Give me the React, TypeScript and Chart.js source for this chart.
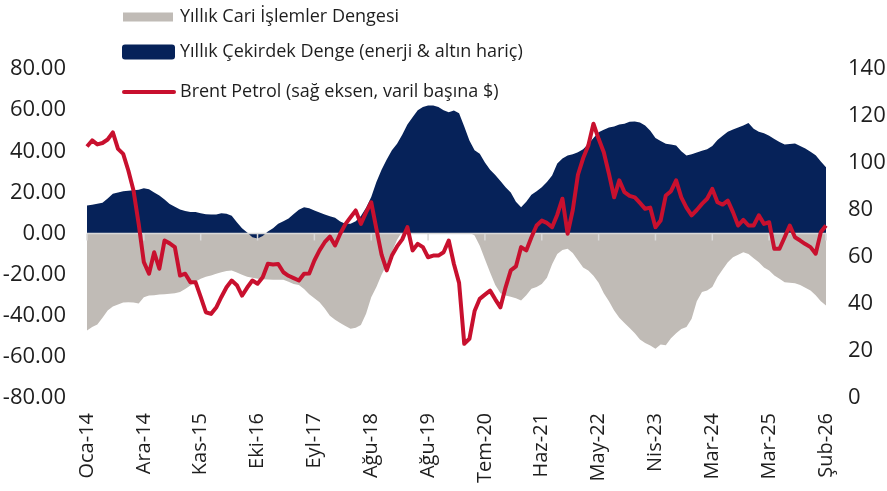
import React, { useEffect, useRef } from "react";
import { Chart, registerables } from "chart.js";

Chart.register(...registerables);

const TICK_LABELS = ["Oca-14", "Ara-14", "Kas-15", "Eki-16", "Eyl-17", "Ağu-18", "Ağu-19", "Tem-20", "Haz-21", "May-22", "Nis-23", "Mar-24", "Mar-25", "Şub-26"];
const TICK_EVERY = 11;

const SERIES_NAMES = [
  "Yıllık Cari İşlemler Dengesi",
  "Yıllık Çekirdek Denge (enerji & altın hariç)",
  "Brent Petrol (sağ eksen, varil başına $)",
];

const CURRENT_ACCOUNT = [
  -47.2, -45.5, -44.2, -41, -37.5, -35.5, -34.5, -33.6, -33.4, -33.5,
  -34, -31, -30.2, -30, -29.7, -29.5, -29.3, -29, -28.5, -27,
  -25.3, -23.5, -22, -21, -20.4, -19.6, -18.8, -18.2, -18, -19,
  -20, -21, -21.5, -22, -22.3, -22.4, -22.5, -22.5, -22.5, -23.5,
  -24.5, -25, -27, -29.5, -31.5, -33.4, -36.5, -40, -42, -43.5,
  -45, -46.3, -45.8, -44.5, -39, -31, -26, -20, -15, -9,
  -3, 1, 3, 4.5, 6, 7, 7.5, 7.5, 7, 6.5,
  5.5, 4.5, 3, 1.5, 0.5, -1, -6, -12.5, -19, -25,
  -29, -30.2, -30.8, -31.5, -32.6, -30, -26.9, -26, -24.5, -21.5,
  -15, -10, -8, -7.4, -9.5, -13, -16.5, -18, -20.5, -24,
  -29, -33, -37.5, -41, -43.5, -46, -48.5, -51.5, -53.2, -54.5,
  -56, -54, -54.3, -51, -48.5, -46.5, -45.5, -41.5, -33, -28.5,
  -27.7, -26, -21.2, -17.5, -14, -11.5, -10.3, -9.1, -10, -12,
  -14, -16.5, -18, -20.4, -22, -23.7, -24, -24.2, -25, -26.4,
  -27.7, -30, -33, -35,
];

const CORE_BALANCE = [
  13.6, 14, 14.5, 15, 17, 19.3, 20, 20.6, 20.8, 21,
  21.3, 22, 21.5, 20, 18.5, 16.5, 14.4, 13, 11.7, 11,
  10.5, 10.4, 9.8, 9.4, 9.2, 9.3, 9.8, 9.6, 8.6, 5.5,
  2.5, 0.5, -1.8, -2.4, -1.2, 1, 2.5, 4.7, 6, 7.3,
  9.5, 11.5, 12.8, 12.3, 11.2, 10.2, 9.2, 8.4, 7.6, 5.8,
  4.8, 4.7, 6, 8.5, 12.5, 17.7, 25, 31, 36, 40.5,
  43.6, 48, 53, 56.5, 60, 61.5, 62.3, 62.3, 61.5, 60,
  59, 59.8, 58.5, 52, 45.2, 40.5, 38.8, 34.5, 31, 28.5,
  25.5, 22.5, 20, 15.5, 12.8, 15.5, 18.8, 20.5, 22.5, 25,
  28.2, 34, 36.5, 37.9, 38.5, 39.5, 41, 43.5, 46.5, 49.3,
  50.5, 51.5, 52, 53, 53.4, 54.3, 54.5, 54, 52.5, 50,
  46.5, 45, 43.6, 43.3, 42.8, 40, 37.9, 38.6, 39.4, 40.2,
  41, 42.5, 45.5, 47.5, 49.5, 50.6, 51.5, 52.5, 53.7, 51,
  49.5, 48.7, 47.5, 46, 44.5, 43.3, 43.5, 43.8, 42.5, 41.3,
  39.8, 38, 35, 32.2,
];

const BRENT = [
  107, 109.6, 107.9, 108.5, 110, 113, 106, 103.9, 96.8, 88.3,
  74.1, 57.8, 52.9, 62, 55, 67, 65.8, 64.2, 52.1, 52.9,
  49.3, 49.3, 43, 36.5, 35.8, 38.5, 43, 47.1, 50, 48,
  43.6, 47, 50, 48.6, 51.4, 57.1, 56.8, 57, 53.5, 52,
  51, 50, 52.9, 53, 58.5, 62.8, 66.3, 68.7, 64.9, 69.9,
  74, 76.9, 79.8, 74.1, 79, 83.3, 72, 61, 54.3, 60.6,
  64.5, 67.5, 72.7, 62.8, 65.6, 64.2, 59.9, 60.6, 60.6, 62,
  67, 57, 49, 23.1, 25.2, 37, 42.2, 44, 45.7, 42,
  38.6, 47.1, 54.3, 56, 64.2, 62.8, 68.4, 73.4, 75.5, 74.5,
  72.7, 78, 84.8, 69.9, 80, 95, 102, 107.4, 116.7, 110.3,
  104.6, 95.4, 85.4, 92.6, 87.6, 86, 85.4, 83, 80.5, 81,
  72.7, 75.5, 86.2, 88, 92.6, 85.4, 81, 77.7, 80, 82.6,
  84.8, 89, 83.3, 82.3, 84, 79.1, 73.4, 75.8, 73.4, 73.4,
  77.7, 74.1, 74.8, 63.5, 63.5, 68.4, 73.4, 68.4, 67, 65.5,
  64.2, 61.4, 70.6, 73.4,
];

const COLORS = { gray: "#C0BBB6", navy: "#062259", red: "#C8102E", text: "#1e1e1e", axis: "#D9D9D9" };
const FONT = "'Open Sans', 'Noto Sans', sans-serif";

const CATEGORIES = BRENT.map((_, i) => (i % TICK_EVERY === 0 ? TICK_LABELS[i / TICK_EVERY] ?? "" : ""));

const zeroAxisPlugin = {
  id: "zeroAxis",
  beforeDatasetDraw(chart: any, args: any) {
    if (args.index !== 2) return;
    const { ctx, scales } = chart;
    const x = scales.x;
    const y = scales.y;
    const y0 = y.getPixelForValue(0);
    ctx.save();
    ctx.strokeStyle = COLORS.axis;
    ctx.lineWidth = 1.5;
    ctx.beginPath();
    ctx.moveTo(x.left, y0);
    ctx.lineTo(x.right, y0);
    TICK_LABELS.forEach((_, k) => {
      const px = x.getPixelForValue(k * TICK_EVERY);
      ctx.moveTo(px, y0);
      ctx.lineTo(px, y0 + 7);
    });
    ctx.stroke();
    ctx.restore();
  },
};

const legendPlugin = {
  id: "customLegend",
  afterDraw(chart: any) {
    const { ctx } = chart;
    const ds = chart.data.datasets;
    const rows = [
      { cy: 17, kind: "thin" },
      { cy: 52, kind: "box" },
      { cy: 92, kind: "line" },
    ];
    ctx.save();
    rows.forEach((r, i) => {
      const d = ds[i];
      if (r.kind === "thin") {
        ctx.fillStyle = d.backgroundColor;
        ctx.fillRect(123, r.cy - 4.5, 50, 9);
      } else if (r.kind === "box") {
        ctx.fillStyle = d.backgroundColor;
        ctx.beginPath();
        (ctx as any).roundRect(122, r.cy - 7.5, 53, 15, 3);
        ctx.fill();
      } else {
        ctx.strokeStyle = d.borderColor;
        ctx.lineWidth = 4;
        ctx.lineCap = "round";
        ctx.beginPath();
        ctx.moveTo(124, r.cy);
        ctx.lineTo(174, r.cy);
        ctx.stroke();
      }
      ctx.fillStyle = COLORS.text;
      ctx.font = `18px ${FONT}`;
      ctx.textBaseline = "middle";
      ctx.textAlign = "left";
      ctx.fillText(d.label, 180, r.cy);
    });
    ctx.restore();
  },
};

export default function App() {
  const ref = useRef<HTMLCanvasElement | null>(null);
  useEffect(() => {
    if (!ref.current) return;
    const chart = new Chart(ref.current, {
      type: "line",
      data: {
        labels: CATEGORIES,
        datasets: [
          {
            label: SERIES_NAMES[0],
            data: CURRENT_ACCOUNT,
            yAxisID: "y",
            backgroundColor: COLORS.gray,
            borderColor: COLORS.gray,
            borderWidth: 0,
            pointRadius: 0,
            fill: "origin",
            order: 2,
          },
          {
            label: SERIES_NAMES[1],
            data: CORE_BALANCE,
            yAxisID: "y",
            backgroundColor: COLORS.navy,
            borderColor: COLORS.navy,
            borderWidth: 0,
            pointRadius: 0,
            fill: "origin",
            order: 1,
          },
          {
            label: SERIES_NAMES[2],
            data: BRENT,
            yAxisID: "y1",
            borderColor: COLORS.red,
            backgroundColor: COLORS.red,
            borderWidth: 4,
            pointRadius: 0,
            fill: false,
            order: 0,
            borderJoinStyle: "round",
          } as any,
        ],
      },
      options: {
        animation: false,
        responsive: true,
        maintainAspectRatio: false,
        layout: { padding: { top: 69, left: 0, right: 0, bottom: 0 } },
        plugins: { legend: { display: false }, tooltip: { enabled: false } },
        scales: {
          x: {
            type: "category",
            offset: false,
            grid: { display: false, drawTicks: false },
            border: { display: false },
            ticks: {
              autoSkip: false,
              maxRotation: 90,
              minRotation: 90,
              padding: 15,
              color: COLORS.text,
              font: { family: FONT, size: 20 },
            },
            afterFit: (s: any) => {
              s.height = 93;
            },
          },
          y: {
            position: "left",
            min: -80,
            max: 80,
            grid: { display: false, drawTicks: false },
            border: { display: false },
            ticks: {
              stepSize: 20,
              padding: 21,
              color: COLORS.text,
              font: { family: FONT, size: 22 },
              callback: (v: any) => Number(v).toFixed(2),
            },
            afterFit: (s: any) => {
              s.width = 87;
            },
          },
          y1: {
            position: "right",
            min: 0,
            max: 140,
            grid: { display: false, drawTicks: false },
            border: { display: false },
            ticks: {
              stepSize: 20,
              padding: 22,
              color: COLORS.text,
              font: { family: FONT, size: 22 },
            },
            afterFit: (s: any) => {
              s.width = 61;
            },
          },
        },
      },
      plugins: [zeroAxisPlugin, legendPlugin],
    });
    return () => chart.destroy();
  }, []);
  return (
    <div style={{ position: "absolute", left: 0, top: 0, width: 887, height: 491 }}>
      <canvas ref={ref} />
    </div>
  );
}
